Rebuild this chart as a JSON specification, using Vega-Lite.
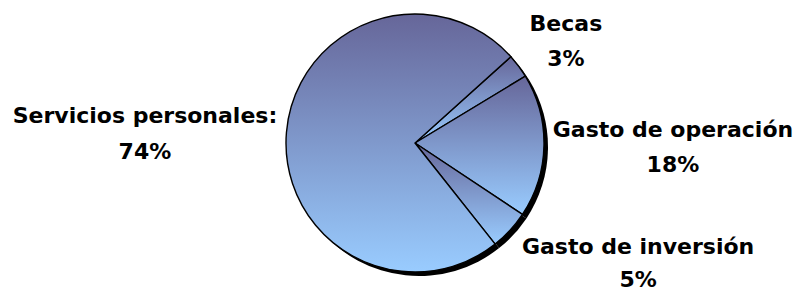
{
  "$schema": "https://vega.github.io/schema/vega-lite/v6.json",
  "width": 768,
  "height": 286,
  "autosize": {"type": "none"},
  "padding": {"left": 31, "top": 0, "right": 0, "bottom": 5},
  "background": "white",
  "config": {"view": {"stroke": null}},
  "data": {
    "values": [
      {"categoria": "Becas", "porcentaje": 3, "orden": 1, "etiqueta": "Becas\n3%"},
      {"categoria": "Gasto de operación", "porcentaje": 18, "orden": 2, "etiqueta": "Gasto de operación\n18%"},
      {"categoria": "Gasto de inversión", "porcentaje": 5, "orden": 3, "etiqueta": "Gasto de inversión\n5%"},
      {"categoria": "Servicios personales", "porcentaje": 74, "orden": 4, "etiqueta": "Servicios personales:\n74%"}
    ]
  },
  "encoding": {
    "theta": {"field": "porcentaje", "type": "quantitative", "stack": true, "scale": {"range": [0.8378, 7.121]}},
    "order": {"field": "orden", "type": "quantitative"}
  },
  "layer": [
    {"mark": {"type": "arc", "radius": 129, "fill": "#000000", "xOffset": 4, "yOffset": 4}},
    {"mark": {"type": "arc", "radius": 129, "stroke": "#000000", "strokeWidth": 1.4,
      "fill": {"gradient": "linear", "x1": 0, "y1": 0, "x2": 0, "y2": 1,
        "stops": [{"offset": 0, "color": "#666699"}, {"offset": 1, "color": "#99CCFF"}]}}},
    {"mark": {"type": "text", "radius": 188, "align": "center", "baseline": "alphabetic", "lineBreak": "\n", "lineHeight": 35, "font": "DejaVu Sans", "fontWeight": "bold", "fontSize": 22, "fill": "#000000"},
     "encoding": {"text": {"condition": {"test": "datum.categoria === 'Becas'", "field": "etiqueta", "type": "nominal"}, "value": ""}}},
    {"mark": {"type": "text", "radius": 258, "dy": -11, "align": "center", "baseline": "alphabetic", "lineBreak": "\n", "lineHeight": 35, "font": "DejaVu Sans", "fontWeight": "bold", "fontSize": 22, "fill": "#000000"},
     "encoding": {"text": {"condition": {"test": "datum.categoria === 'Gasto de operación'", "field": "etiqueta", "type": "nominal"}, "value": ""}}},
    {"mark": {"type": "text", "radius": 155, "dx": 109, "dy": 6, "align": "center", "baseline": "alphabetic", "lineBreak": "\n", "lineHeight": 33, "font": "DejaVu Sans", "fontWeight": "bold", "fontSize": 22, "fill": "#000000"},
     "encoding": {"text": {"condition": {"test": "datum.categoria === 'Gasto de inversión'", "field": "etiqueta", "type": "nominal"}, "value": ""}}},
    {"mark": {"type": "text", "radius": 271, "dy": 3, "align": "center", "baseline": "alphabetic", "lineBreak": "\n", "lineHeight": 36, "font": "DejaVu Sans", "fontWeight": "bold", "fontSize": 22, "fill": "#000000"},
     "encoding": {"text": {"condition": {"test": "datum.categoria === 'Servicios personales'", "field": "etiqueta", "type": "nominal"}, "value": ""}}}
  ]
}
